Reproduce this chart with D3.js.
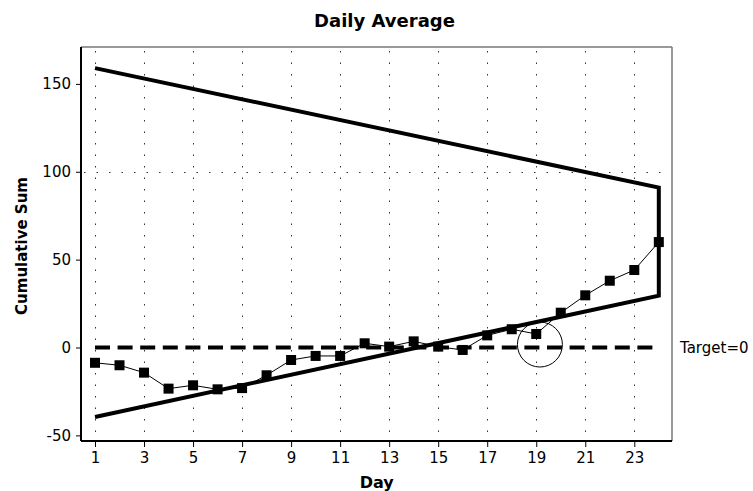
<!DOCTYPE html>
<html>
<head>
<meta charset="utf-8">
<script src="https://cdn.jsdelivr.net/npm/d3@7"></script>
<style>
  html, body { margin: 0; padding: 0; background: #fff; }
  svg { display: block; }
  text { font-family: "DejaVu Sans", Verdana, sans-serif; fill: #000; }
</style>
</head>
<body>
<svg id="chart" width="753" height="491"></svg>
<script>
// CUSUM of daily averages with a V-mask anchored at the last day
const days = d3.range(1, 25);
const cusum = [-8.7, -10.1, -14.3, -23.4, -21.5, -23.8, -23.1, -15.8, -7.1, -4.8, -4.8, 2.4,
               0.5, 3.5, 0.5, -1.4, 6.9, 10.4, 7.7, 19.8, 29.7, 38.0, 44.1, 60.0];

// V-mask arms (value at first day, value at last day)
const maskDays = [1, 24];
const maskUpper = [159, 91];
const maskLower = [-39.5, 29.5];

const target = 0;
const targetLabel = "Target=0";

// flagged point marker (day, value)
const flagged = [19.15, 1.7];

const xTicks = [1, 3, 5, 7, 9, 11, 13, 15, 17, 19, 21, 23];
const yTicks = [-50, 0, 50, 100, 150];
const yGrid = [100];

const svg = d3.select("#chart");
const plotL = 81, plotR = 672, plotT = 47, plotB = 441;

const x = d3.scaleLinear().domain([0.429, 24.538]).range([plotL, plotR]);
const y = d3.scaleLinear().domain([-53.2, 171.0]).range([plotB, plotT]);

// plain hyphen for negatives
const fmt = d => String(d);

// dotted grid
svg.append("g").selectAll("line").data(xTicks).join("line")
  .attr("x1", d => Math.round(x(d)) + 0.5).attr("x2", d => Math.round(x(d)) + 0.5)
  .attr("y1", plotT + 4).attr("y2", plotB - 2)
  .attr("stroke", "#333").attr("stroke-width", 1).attr("stroke-dasharray", "1.5,10");
svg.append("g").selectAll("line").data(yGrid).join("line")
  .attr("x1", plotL + 3).attr("x2", plotR - 3)
  .attr("y1", d => Math.round(y(d)) + 0.5).attr("y2", d => Math.round(y(d)) + 0.5)
  .attr("stroke", "#333").attr("stroke-width", 1).attr("stroke-dasharray", "1.5,11");

// frame: light top/right, heavy left/bottom axes
svg.append("line").attr("x1", plotL).attr("x2", plotR).attr("y1", plotT).attr("y2", plotT)
  .attr("stroke", "#777").attr("stroke-width", 1.5);
svg.append("line").attr("x1", plotR).attr("x2", plotR).attr("y1", plotT).attr("y2", plotB)
  .attr("stroke", "#777").attr("stroke-width", 1.5);

const xAxis = svg.append("g").attr("transform", `translate(0,${plotB})`)
  .call(d3.axisBottom(x).tickValues(xTicks).tickSize(6).tickPadding(5).tickFormat(fmt));
xAxis.select(".domain").attr("d", `M${plotL},0H${plotR}`).attr("stroke", "#000").attr("stroke-width", 2);
xAxis.selectAll(".tick line").attr("stroke", "#000").attr("stroke-width", 1);
xAxis.selectAll(".tick text").attr("font-size", 15).attr("font-family", "DejaVu Sans");

const yAxis = svg.append("g").attr("transform", `translate(${plotL},0)`)
  .call(d3.axisLeft(y).tickValues(yTicks).tickSize(5).tickPadding(5).tickFormat(fmt));
yAxis.select(".domain").attr("d", `M0,${plotT}V${plotB}`).attr("stroke", "#000").attr("stroke-width", 2);
yAxis.selectAll(".tick line").attr("stroke", "#000").attr("stroke-width", 1);
yAxis.selectAll(".tick text").attr("font-size", 15).attr("font-family", "DejaVu Sans");

// target line
svg.append("line")
  .attr("x1", x(days[0])).attr("x2", x(days[days.length - 1]))
  .attr("y1", y(target)).attr("y2", y(target))
  .attr("stroke", "#000").attr("stroke-width", 4).attr("stroke-dasharray", "15,7.6");
svg.append("text").attr("x", plotR + 8).attr("y", y(target) + 5.5)
  .attr("font-size", 15).text(targetLabel);

// V-mask
const maskPts = [
  [maskDays[0], maskUpper[0]], [maskDays[1], maskUpper[1]],
  [maskDays[1], maskLower[1]], [maskDays[0], maskLower[0]]
];
svg.append("path")
  .attr("d", d3.line().x(d => x(d[0])).y(d => y(d[1]))(maskPts))
  .attr("fill", "none").attr("stroke", "#000").attr("stroke-width", 4)
  .attr("stroke-linejoin", "miter");

// cumulative sum series
const pts = days.map((d, i) => [d, cusum[i]]);
svg.append("path")
  .attr("d", d3.line().x(d => x(d[0])).y(d => y(d[1]))(pts))
  .attr("fill", "none").attr("stroke", "#000").attr("stroke-width", 1);
svg.append("g").selectAll("rect").data(pts).join("rect")
  .attr("x", d => x(d[0]) - 5).attr("y", d => y(d[1]) - 5)
  .attr("width", 10).attr("height", 10).attr("fill", "#000");

// flagged point circle
svg.append("circle")
  .attr("cx", x(flagged[0])).attr("cy", y(flagged[1])).attr("r", 22.5)
  .attr("fill", "none").attr("stroke", "#000").attr("stroke-width", 1);

// titles
svg.append("text").attr("x", 384.5).attr("y", 27.3).attr("text-anchor", "middle")
  .attr("font-size", 18).attr("font-weight", "bold").text("Daily Average");
svg.append("text").attr("x", 376.7).attr("y", 488.4).attr("text-anchor", "middle")
  .attr("font-size", 16).attr("font-weight", "bold").text("Day");
svg.append("text").attr("transform", "translate(26.5,246) rotate(-90)")
  .attr("text-anchor", "middle").attr("font-size", 15).attr("font-weight", "bold")
  .text("Cumulative Sum");
</script>
</body>
</html>
